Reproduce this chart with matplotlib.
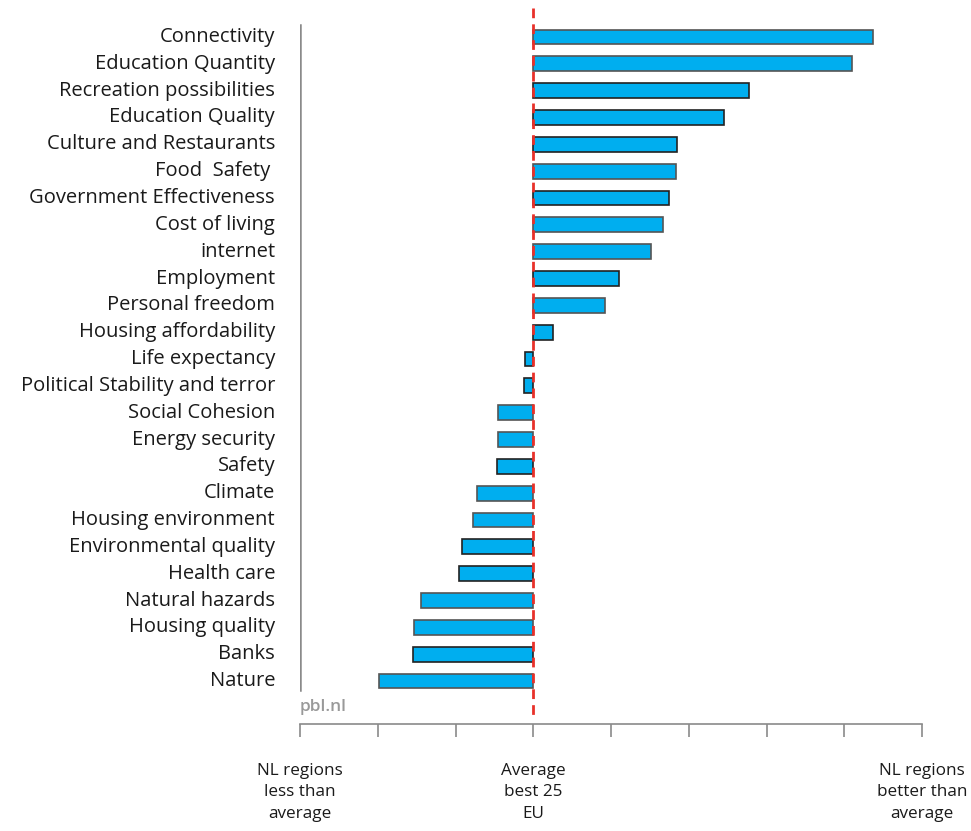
import matplotlib.pyplot as plt

# categories top to bottom, values in units of the x tick spacing (0 = average best 25 EU)
categories = ['Connectivity', 'Education Quantity', 'Recreation possibilities',
              'Education Quality', 'Culture and Restaurants', 'Food  Safety ',
              'Government Effectiveness', 'Cost of living', 'internet', 'Employment',
              'Personal freedom', 'Housing affordability', 'Life expectancy',
              'Political Stability and terror', 'Social Cohesion', 'Energy security',
              'Safety', 'Climate', 'Housing environment', 'Environmental quality',
              'Health care', 'Natural hazards', 'Housing quality', 'Banks', 'Nature']
values = [4.37, 4.10, 2.77, 2.45, 1.85, 1.83, 1.74, 1.67, 1.51, 1.10, 0.92, 0.26,
          -0.10, -0.12, -0.45, -0.45, -0.46, -0.72, -0.77, -0.91, -0.95, -1.44,
          -1.53, -1.55, -1.99]
edge_black = [False, False, True, True, True, False, True, False, False, True,
              False, True, True, True, False, False, True, False, False, True,
              True, False, False, True, False]
bottom_labels = ['NL regions\nless than\naverage', 'Average\nbest 25\nEU',
                 'NL regions\nbetter than\naverage']
bottom_pos = [-3, 0, 5]

plt.rcParams['font.family'] = ['Open Sans', 'DejaVu Sans']

fig = plt.figure(figsize=(9.71, 8.31), dpi=100)
ax = fig.add_axes([300 / 971, 1 - 724 / 831, 622 / 971, 716 / 831])

ypos = list(range(len(categories)))
edges = ['#222222' if b else '#555555' for b in edge_black]
ax.barh(ypos, values, height=0.55, color='#00AEEF', edgecolor=edges, linewidth=1.2)

ax.set_xlim(-3, 5)
ax.set_ylim(25.6, -1.08)

# red dashed average line
ax.plot([0, 0], [-1.08, 25.27], color='#E8312A', linestyle=(0, (3.5, 2.2)),
        linewidth=2, clip_on=False, zorder=5)
# gray left rule
ax.plot([-3, -3], [-0.45, 24.34], color='#8a8a8a', linewidth=1.8, zorder=1)

for s in ['top', 'right', 'left']:
    ax.spines[s].set_visible(False)
ax.spines['bottom'].set_color('#8a8a8a')
ax.spines['bottom'].set_linewidth(1.2)
ax.set_xticks(range(-3, 6))
ax.set_xticklabels([])
ax.tick_params(axis='x', direction='out', length=9, width=1.2, color='#8a8a8a')
ax.set_yticks([])

for y, name in zip(ypos, categories):
    ax.text(-3.32, y, name, ha='right', va='center', fontsize=14.5, color='#1a1a1a')

ax.text(-3.0, 24.95, 'pbl.nl', ha='left', va='center', fontsize=12.5,
        color='#999999', fontweight='semibold')

for x, lab in zip(bottom_pos, bottom_labels):
    ax.text(x, 27.05, lab, ha='center', va='top', fontsize=12.3, color='#1a1a1a',
            linespacing=1.45)

fig.savefig('out.png', dpi=100)
